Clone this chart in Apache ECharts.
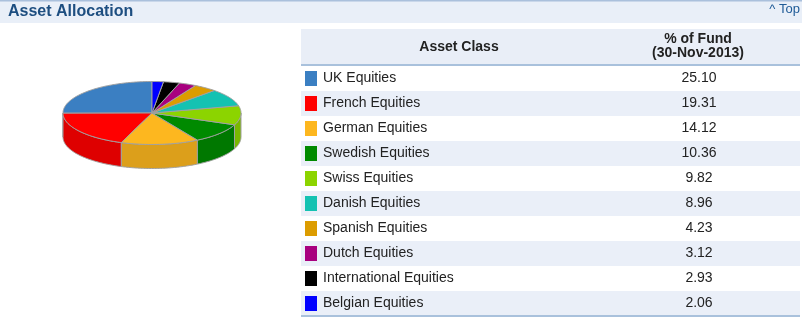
<!DOCTYPE html>
<html><head><meta charset="utf-8">
<script src="https://cdn.jsdelivr.net/npm/echarts@6/dist/echarts.min.js"></script>
<style>html,body{margin:0;padding:0;background:#fff}#c{width:802px;height:321px}</style>
</head><body><div id="c"></div>
<script>
const titleText = 'Asset Allocation';
const topLinkText = '^ Top';
const headerCol1 = 'Asset Class';
const headerCol2 = ['% of Fund', '(30-Nov-2013)'];
const categories = ['UK Equities','French Equities','German Equities','Swedish Equities','Swiss Equities','Danish Equities','Spanish Equities','Dutch Equities','International Equities','Belgian Equities'];
const values = [25.10, 19.31, 14.12, 10.36, 9.82, 8.96, 4.23, 3.12, 2.93, 2.06];
const valueLabels = ['25.10','19.31','14.12','10.36','9.82','8.96','4.23','3.12','2.93','2.06'];
const colors = ['#3b7fc2','#ff0000','#fdb71f','#008a00','#8cd400','#14c2b2','#dc9c00','#a8007f','#000000','#0000ff'];

const FONT = '"Liberation Sans", Arial, sans-serif';
const chart = echarts.init(document.getElementById('c'), null, {renderer:'canvas'});

// pie geometry
const P = {cx:152, cy:113, rx:89, ry:31.5, depth:24};
const total = values.reduce((a,b)=>a+b,0);
const starts = []; {let s=0; values.forEach(v=>{starts.push(s); s+=v;});}
function pt(a, dy){const r=a*Math.PI/180; return [P.cx+P.rx*Math.cos(r), P.cy-P.ry*Math.sin(r)+dy];}
function darken(hex, f){
  const n=parseInt(hex.slice(1),16); const r=(n>>16)&255,g=(n>>8)&255,b=n&255;
  return 'rgb('+Math.round(r*f)+','+Math.round(g*f)+','+Math.round(b*f)+')';
}
function angles(i, v){const a0=90+starts[i]*360/total; return [a0, a0+v*360/total];}

function topItem(params, api){
  const i=params.dataIndex, v=api.value(0);
  const [a0,a1]=angles(i,v);
  const pts=[[P.cx,P.cy]];
  for(let a=a0;a<a1;a+=1) pts.push(pt(a,0));
  pts.push(pt(a1,0));
  return {type:'polygon', shape:{points:pts}, style:{fill:colors[i], stroke:'#a0a0a0', lineWidth:1}};
}
function sideItem(params, api){
  const i=params.dataIndex, v=api.value(0);
  const [a0,a1]=angles(i,v);
  const children=[];
  [[180,360],[540,720]].forEach(([lo,hi])=>{
    const s=Math.max(a0,lo), e=Math.min(a1,hi);
    if(e>s){
      const pts=[];
      for(let a=s;a<e;a+=1) pts.push(pt(a,0));
      pts.push(pt(e,0));
      for(let a=e;a>s;a-=1) pts.push(pt(a,P.depth));
      pts.push(pt(s,P.depth));
      children.push({type:'polygon', shape:{points:pts}, style:{fill:darken(colors[i],0.87), stroke:'#a0a0a0', lineWidth:1}});
    }
  });
  return {type:'group', children};
}

// graphics: header band & table
const g = [];
g.push({type:'rect', shape:{x:0,y:0,width:802,height:23}, style:{fill:'#e9eff8'}});
g.push({type:'rect', shape:{x:0,y:0,width:802,height:1.5}, style:{fill:'#aac0dc'}});
g.push({type:'text', x:8, y:12, style:{text:titleText, font:'bold 16px '+FONT, fill:'#1d4e80', verticalAlign:'middle'}});
g.push({type:'text', x:800, y:9, style:{text:topLinkText, font:'13px '+FONT, fill:'#1f5b97', align:'right', verticalAlign:'middle'}});
// table header
g.push({type:'rect', shape:{x:301,y:29,width:499,height:35}, style:{fill:'#e9eef7'}});
g.push({type:'rect', shape:{x:301,y:64,width:499,height:2}, style:{fill:'#a9c1dc'}});
g.push({type:'text', x:459, y:47, style:{text:headerCol1, font:'bold 14px '+FONT, fill:'#222', align:'center', verticalAlign:'middle'}});
g.push({type:'text', x:698, y:39.5, style:{text:headerCol2[0], font:'bold 14px '+FONT, fill:'#222', align:'center', verticalAlign:'middle'}});
g.push({type:'text', x:698, y:53, style:{text:headerCol2[1], font:'bold 14px '+FONT, fill:'#222', align:'center', verticalAlign:'middle'}});
categories.forEach((c,i)=>{
  const y0=66+i*25;
  if(i%2===1) g.push({type:'rect', shape:{x:301,y:y0,width:499,height:25}, style:{fill:'#eaeff8'}});
  g.push({type:'rect', shape:{x:305,y:y0+5,width:12,height:15}, style:{fill:colors[i]}});
  g.push({type:'text', x:323, y:y0+12.5, style:{text:c, font:'14px '+FONT, fill:'#222', verticalAlign:'middle'}});
  g.push({type:'text', x:699, y:y0+12.5, style:{text:valueLabels[i], font:'14px '+FONT, fill:'#222', align:'center', verticalAlign:'middle'}});
});
g.push({type:'rect', shape:{x:301,y:315,width:499,height:2}, style:{fill:'#a9c1dc'}});

chart.setOption({
  animation:false,
  graphic:g,
  series:[
    {type:'custom', coordinateSystem:'none', renderItem:sideItem, data:values, z:1, silent:true},
    {type:'custom', coordinateSystem:'none', renderItem:topItem, data:values, z:2, silent:true}
  ]
});
</script>
</body></html>
